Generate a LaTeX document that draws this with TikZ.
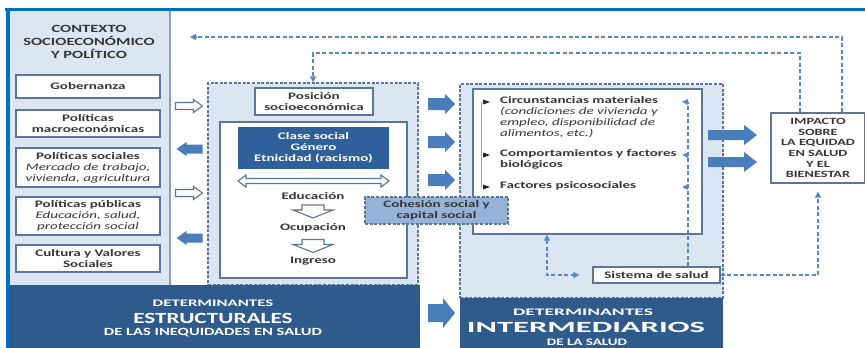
\documentclass[tikz,border=0pt]{standalone}
\usepackage{fontspec}
\setmainfont{Carlito}[FakeStretch=1.5]
\usetikzlibrary{arrows.meta}
\definecolor{txtc}{HTML}{363636}
\definecolor{boxc}{HTML}{5A7698}
\definecolor{panelc}{HTML}{DCE6F2}
\definecolor{bandc}{HTML}{2E5B8C}
\definecolor{darkboxc}{HTML}{30609A}
\definecolor{arrowc}{HTML}{4A7EBB}
\definecolor{fbc}{HTML}{5588C8}
\definecolor{cohc}{HTML}{95B3D7}
\definecolor{topblue}{HTML}{0070C0}
% block arrow: #1 style, #2 x, #3 y, #4 rotation, #5 length, #6 shaft, #7 head width, #8 head length
\newcommand{\blockarr}[8]{%
  \path[#1,shift={(#2,#3)},rotate=#4] (-#5/2,-#6/2) -- (#5/2-#8,-#6/2) -- (#5/2-#8,-#7/2) -- (#5/2,0)
    -- (#5/2-#8,#7/2) -- (#5/2-#8,#6/2) -- (-#5/2,#6/2) -- cycle;}
\begin{document}
\begin{tikzpicture}[x=1pt,y=-1pt,
  txt/.style={text=txtc, font=\fontsize{10}{11}\selectfont\bfseries, align=center, inner sep=0pt},
  lbox/.style={txt, draw=boxc, line width=1.2pt, fill=white, minimum width=144pt},
  dbox/.style={draw=boxc, line width=1.3pt, dash pattern=on 3pt off 1.6pt, fill=panelc, inner sep=0pt},
  wbox/.style={draw=boxc, line width=1.2pt, fill=white, inner sep=0pt},
  band/.style={fill=bandc, inner sep=0pt},
  bandtxt/.style={text=white, font=\bfseries, inner sep=0pt},
  hollow/.style={fill=white, draw=boxc, line width=1.1pt},
  sfill/.style={fill=arrowc},
  fb/.style={draw=fbc, line width=1.4pt, dash pattern=on 4pt off 2.5pt},
  tip/.style={-{Triangle[length=6pt,width=6pt]}},
]
\useasboundingbox (0,0) rectangle (865,348);
\fill[white] (0,0) rectangle (865,348);

% left panel
\fill[panelc] (10,11) rectangle (170,285);
\draw[boxc!70, line width=1.2pt] (170,11) -- (170,285);
\draw[topblue, line width=3.5pt] (5,9.5) -- (865,9.5);
\draw[topblue, line width=3.5pt] (8,8) -- (8,348);

\node[txt, font=\fontsize{11}{13}\selectfont\bfseries] (ctx) at (89,42) {CONTEXTO\\SOCIOECONÓMICO\\Y POLÍTICO};
\node[lbox, minimum height=23pt] (gob) at (88,86.5) {Gobernanza};
\node[lbox, minimum height=27pt] (mac) at (88,123.5) {Políticas\\macroeconómicas};
\node[lbox, minimum height=39pt] (soc) at (88,167.5) {Políticas sociales\\{\it Mercado de trabajo,}\\{\it vivienda, agricultura}};
\node[lbox, minimum height=38pt] (pub) at (88,216) {Políticas públicas\\{\it Educación, salud,}\\{\it protección social}};
\node[lbox, minimum height=27pt] (cul) at (88,258.5) {Cultura y Valores\\Sociales};

% structural dashed box
\node[dbox, minimum width=210pt, minimum height=202pt] (sbox) at (313,184) {};
\node[txt, wbox, minimum width=118pt, minimum height=27pt] (pos) at (314,101.5) {Posición\\socioeconómica};
\node[wbox, minimum width=187pt, minimum height=156pt] (sin) at (313.5,200) {};
\node[txt, fill=darkboxc, text=white, minimum width=151pt, minimum height=42pt] (cls) at (313.5,148) {Clase social\\Género\\Etnicidad (racismo)};
\path[hollow] (238,181) -- (246,175) -- (246,178.5) -- (381,178.5) -- (381,175) -- (389,181) -- (381,187) -- (381,183.5) -- (246,183.5) -- (246,187) -- cycle;
\node[txt] (edu) at (313,196) {Educación};
\blockarr{hollow}{313}{211.5}{-90}{13}{22}{40}{8}
\node[txt] (ocu) at (313,228) {Ocupación};
\blockarr{hollow}{313}{246}{-90}{13}{22}{40}{8}
\node[txt] (ing) at (313,261) {Ingreso};

% arrows between left column and structural box
\blockarr{hollow}{189}{106}{0}{27}{7}{13}{9}
\blockarr{sfill}{189.5}{149}{180}{26}{9}{14}{10}
\blockarr{hollow}{189}{193}{0}{27}{7}{13}{9}
\blockarr{sfill}{189.5}{238}{180}{26}{9}{14}{10}

% intermediary dashed box
\node[dbox, minimum width=263pt, minimum height=214pt] (ibx) at (591.5,191) {};
\node[wbox, minimum width=229pt, minimum height=145pt] (iin) at (587.5,161.5) {};
\node[txt, anchor=north west, align=left] (it1) at (500,96.5) {Circunstancias materiales\\{\it (condiciones de vivienda y}\\{\it empleo, disponibilidad de}\\{\it alimentos, etc.)}};
\node[txt, anchor=north west, align=left] (it2) at (500,149.5) {Comportamientos y factores\\biológicos};
\node[txt, anchor=north west, align=left] (it3) at (500,181.5) {Factores psicosociales};
\draw[gray!70, line width=1pt] (481,102) -- (481,188);
\foreach \yy in {102,155,187} \fill[black!85] (483,\yy-2.5) -- (490,\yy) -- (483,\yy+2.5) -- cycle;

% cohesion box
\node[txt, draw=boxc, line width=1.3pt, dash pattern=on 3pt off 1.6pt, fill=cohc, minimum width=143pt, minimum height=27pt] (coh) at (436.5,210.5) {Cohesión social y\\capital social};

% middle arrows
\blockarr{sfill}{441.5}{104}{0}{27}{12}{20}{10}
\blockarr{sfill}{441.5}{142}{0}{27}{12}{20}{10}
\blockarr{sfill}{441.5}{180}{0}{27}{12}{20}{10}

% sistema de salud
\node[txt, wbox, minimum width=127pt, minimum height=16pt] (sis) at (656.5,275) {Sistema de salud};

% bands
\node[band, minimum width=411pt, minimum height=63pt] (sband) at (214.5,316.5) {};
\node[band, minimum width=263pt, minimum height=50pt] (iband) at (591.5,323) {};
\node[bandtxt, font=\fontsize{10}{10}\selectfont\bfseries] (s1) at (213,303) {\scalebox{1.12}[1]{DETERMINANTES}};
\node[bandtxt, font=\fontsize{15.5}{15.5}\selectfont\bfseries] (s2) at (213,318) {ESTRUCTURALES};
\node[bandtxt, font=\fontsize{11}{11}\selectfont\bfseries] (s3) at (213,333) {DE LAS INEQUIDADES EN SALUD};
\node[bandtxt, font=\fontsize{10}{10}\selectfont\bfseries] (i1) at (583,312) {\scalebox{1.3}[1]{DETERMINANTES}};
\node[bandtxt, font=\fontsize{15.5}{15.5}\selectfont\bfseries] (i2) at (586,327) {\scalebox{1.4}[1]{INTERMEDIARIOS}};
\node[bandtxt, font=\fontsize{10}{10}\selectfont\bfseries] (i3) at (587,342) {DE LA SALUD};
\blockarr{sfill}{441.5}{313}{0}{27}{18}{30}{12}

% impacto
\node[txt, font=\fontsize{9.5}{10.7}\selectfont\bfseries, wbox, minimum width=94pt, minimum height=70pt] (imp) at (818,148) {IMPACTO\\SOBRE\\LA EQUIDAD\\EN SALUD\\Y EL\\BIENESTAR};
\blockarr{sfill}{732.5}{135}{0}{49}{10}{20}{13}
\blockarr{sfill}{732.5}{162}{0}{49}{10}{20}{13}

% feedback dashed connectors
\coordinate (fbA) at (800,53);
\coordinate (fbB) at (842,37);
\coordinate (fbEnd) at (190,37);
\draw[fb, tip] (imp.north -| fbA) -- (fbA) -| (sbox.north);
\draw[fb, tip] (imp.north -| fbB) -- (fbB) -- (fbEnd);

\coordinate (vtop) at (688,102);
\coordinate (v2) at (688,155);
\coordinate (v3) at (688,187);
\draw[fb] (sis.north -| vtop) -- (vtop);
\foreach \c in {vtop,v2,v3} \fill[fbc] (\c) ++(0,-3) -- ++(-6,3) -- ++(6,3) -- cycle;

\coordinate (sx) at (547,275);
\draw[fb, {Triangle[length=6pt,width=6pt]}-{Triangle[length=6pt,width=6pt]}, shorten >=13pt] (sx |- iin.south) |- (sis.west);
\draw[fb, tip, shorten >=8pt] (sis.east) -| (imp.south);
\end{tikzpicture}
\end{document}
